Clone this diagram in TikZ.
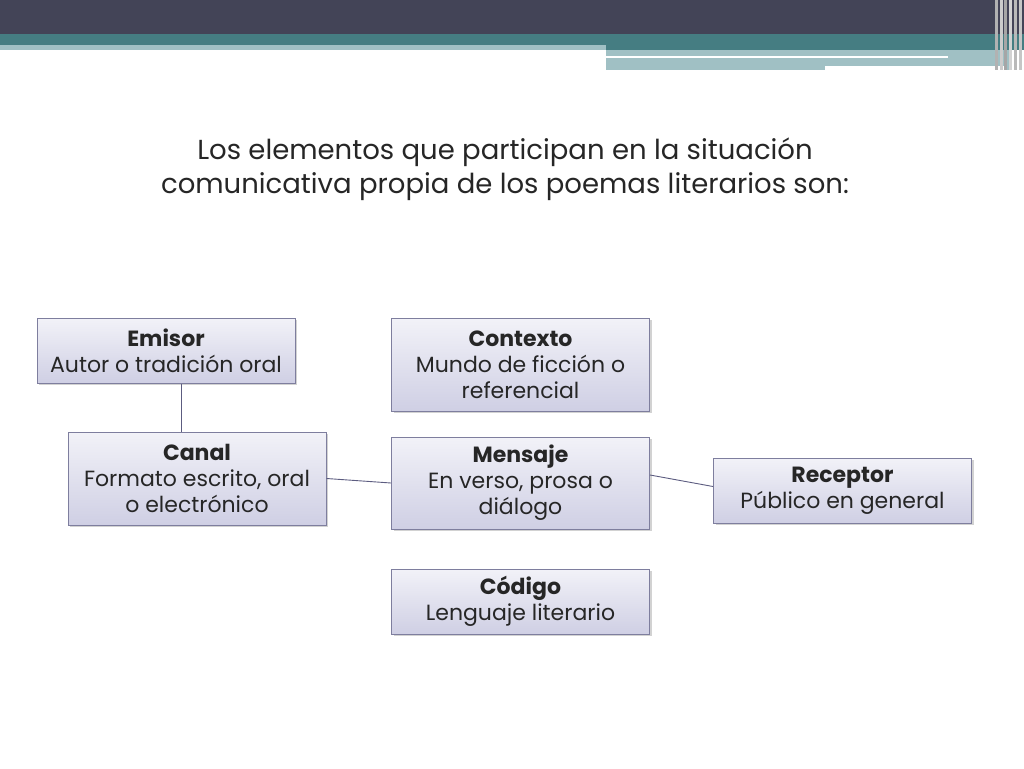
\documentclass[tikz,border=0pt]{standalone}
\usepackage{fontspec}
\setmainfont{Poppins}
\usetikzlibrary{shadows}
\definecolor{dark}{HTML}{434457}
\definecolor{teal}{HTML}{457D82}
\definecolor{lteal}{HTML}{A0C0C4}
\definecolor{bord}{HTML}{7E7E9E}
\definecolor{ln}{HTML}{5C5C80}
\definecolor{ftop}{HTML}{F2F2F8}
\definecolor{fbot}{HTML}{CFCFE4}
\begin{document}
\begin{tikzpicture}[x=1pt,y=-1pt,
  bx/.style={draw=bord,line width=1pt,top color=ftop,bottom color=fbot,
    drop shadow={shadow xshift=2pt,shadow yshift=-2pt,opacity=0.35},
    minimum width=258pt,inner xsep=2pt,align=center,font=\fontsize{22}{26}\selectfont,text=black!85},
  cn/.style={draw=ln,line width=0.9pt}]
\useasboundingbox (0,0) rectangle (1024,768);
\fill[white] (0,0) rectangle (1024,768);
% header
\fill[dark] (0,0) rectangle (1024,34);
\fill[teal] (0,34) rectangle (1024,50);
\fill[lteal] (0,45) rectangle (606,50);
\fill[lteal] (606,50) rectangle (1010,70);
\fill[white] (606,56) rectangle (948,58);
\fill[white] (825,66) rectangle (1005,70);
\foreach \xx/\cc in {995/gray!60,1000/gray!40,1004/gray!70,1009/gray!35,1014/gray!55,1019/gray!45}
  \fill[\cc] (\xx,0) rectangle ++(3,70);
% title
\node[font=\fontsize{27.5}{34}\selectfont,align=center,text=black!85] (title) at (505,169)
  {Los elementos que participan en la situación\\comunicativa propia de los poemas literarios son:};
% boxes
\node[bx,minimum height=65pt] (emisor) at (166,350.5) {\textbf{Emisor}\\Autor o tradición oral};
\node[bx,minimum height=93pt] (contexto) at (520.5,364.5) {\textbf{Contexto}\\Mundo de ficción o\\referencial};
\node[bx,minimum height=93pt] (canal) at (197,478.5) {\textbf{Canal}\\Formato escrito, oral\\o electrónico};
\node[bx,minimum height=92pt] (mensaje) at (520.5,483) {\textbf{Mensaje}\\En verso, prosa o\\diálogo};
\node[bx,minimum height=65pt] (receptor) at (842.5,490.5) {\textbf{Receptor}\\Público en general};
\node[bx,minimum height=65pt] (codigo) at (520.5,601.5) {\textbf{Código}\\Lenguaje literario};
\draw[cn] (emisor.south -| 181,0) -- (canal.north -| 181,0);
\draw[cn] (canal.east) -- (mensaje.west);
\draw[cn] ([yshift=8pt]mensaje.east) -- ([yshift=4pt]receptor.west);
\end{tikzpicture}
\end{document}
